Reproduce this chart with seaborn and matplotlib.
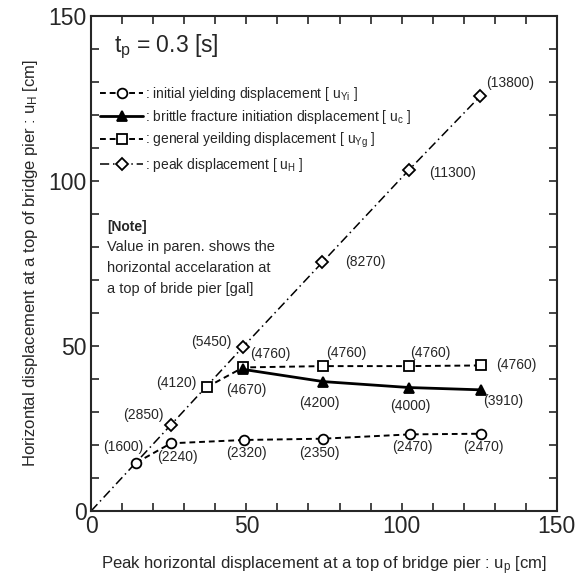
import matplotlib
matplotlib.use("Agg")
import matplotlib.pyplot as plt
from matplotlib.lines import Line2D
from matplotlib.ticker import MultipleLocator
import seaborn as sns
import pandas as pd

# DATA
up_yi = [14.5, 25.7, 49.3, 74.8, 102.7, 125.7]
uh_yi = [14.6, 20.5, 21.5, 21.9, 23.2, 23.4]
acc_yi = [1600, 2240, 2320, 2350, 2470, 2470]

up_c = [49.0, 74.8, 102.5, 125.7]
uh_c = [42.9, 39.2, 37.4, 36.7]
acc_c = [4670, 4200, 4000, 3910]

up_yg = [37.2, 49.0, 74.8, 102.5, 125.7]
uh_yg = [37.5, 43.5, 43.9, 43.9, 44.1]
acc_yg = [4120, 4760, 4760, 4760, 4760]

up_h = [25.7, 49.0, 74.5, 102.3, 125.4]
uh_h = [26.1, 49.8, 75.4, 103.3, 125.8]
acc_h = [2850, 5450, 8270, 11300, 13800]

# label offsets in pixels (x, y)
off_yi = [(-13, 16), (6, -14), (2, -13), (-4, -14), (2, -13), (2, -13)]
off_c = [(3, -21), (-4, -21), (1, -18), (22, -11)]
off_yg = [(-30, 4), (27, 13), (23, 13), (21, 13), (35, 0)]
off_h = [(-28, 10), (-32, 5), (43, 0), (44, -3), (30, 13)]

sns.set_style("ticks")
plt.rcParams["font.family"] = ["Liberation Sans", "DejaVu Sans"]
plt.rcParams["mathtext.fontset"] = "custom"
plt.rcParams["mathtext.rm"] = "Liberation Sans"
plt.rcParams["mathtext.it"] = "Liberation Sans"
plt.rcParams["mathtext.bf"] = "Liberation Sans:bold"

fig, ax = plt.subplots(figsize=(5.77, 5.76), dpi=100)
fig.subplots_adjust(left=0.158, right=0.965, bottom=0.113, top=0.972)

dash = (0, (3, 2))
dashdot = (0, (6, 2.5, 1, 2.5))
mk = dict(markersize=7, markeredgewidth=1.3, markeredgecolor="black")

# peak displacement line starts from origin
line_df = pd.DataFrame({"x": [0] + up_h, "y": [0] + uh_h})
sns.lineplot(data=line_df, x="x", y="y", ax=ax, color="black", lw=1.1,
             linestyle=dashdot, sort=False)
sns.lineplot(x=up_h, y=uh_h, ax=ax, color="black", linestyle="", marker="D",
             markerfacecolor="white", **dict(mk, markersize=6.5), sort=False)

sns.lineplot(x=up_yi, y=uh_yi, ax=ax, color="black", lw=1.4, linestyle=dash,
             marker="o", markerfacecolor="white", **mk, sort=False)
sns.lineplot(x=up_yg, y=uh_yg, ax=ax, color="black", lw=1.4, linestyle=dash,
             marker="s", markerfacecolor="white", **mk, sort=False)
sns.lineplot(x=up_c, y=uh_c, ax=ax, color="black", lw=2.0, linestyle="-",
             marker="^", markerfacecolor="black", **mk, sort=False)

# acceleration labels
for xs, ys, accs, offs in [(up_yi, uh_yi, acc_yi, off_yi),
                           (up_c, uh_c, acc_c, off_c),
                           (up_yg, uh_yg, acc_yg, off_yg),
                           (up_h, uh_h, acc_h, off_h)]:
    for x, y, a, o in zip(xs, ys, accs, offs):
        ax.annotate(f"({a})", (x, y), xytext=o, textcoords="offset pixels",
                    ha="center", va="center", fontsize=10)

ax.set_xlim(0, 150)
ax.set_ylim(0, 150)
ax.xaxis.set_major_locator(MultipleLocator(50))
ax.yaxis.set_major_locator(MultipleLocator(50))
ax.xaxis.set_minor_locator(MultipleLocator(10))
ax.yaxis.set_minor_locator(MultipleLocator(10))
ax.tick_params(which="both", direction="in", top=True, right=True,
               length=6, width=1.2, labelsize=16.5, pad=3)
for s in ax.spines.values():
    s.set_linewidth(1.5)

ax.set_xlabel("Peak horizontal displacement at a top of bridge pier : $u_p$ [cm]",
              fontsize=12)
ax.set_ylabel("Horizontal displacement at a top of bridge pier : $u_H$ [cm]",
              fontsize=12)
ax.xaxis.set_label_coords(0.5, -0.087)
ax.yaxis.set_label_coords(-0.11, 0.5)

ax.text(0.05, 0.937, "$t_p$ = 0.3 [s]", transform=ax.transAxes,
        fontsize=16.5, va="center")

handles = [
    Line2D([], [], color="black", lw=1.4, ls=dash, marker="o",
           markerfacecolor="white", **mk),
    Line2D([], [], color="black", lw=2.0, ls="-", marker="^",
           markerfacecolor="black", **mk),
    Line2D([], [], color="black", lw=1.4, ls=dash, marker="s",
           markerfacecolor="white", **mk),
    Line2D([], [], color="black", lw=1.1, ls=dashdot, marker="D",
           markerfacecolor="white", **dict(mk, markersize=6.5)),
]
labels = [
    ": initial yielding displacement [ $u_{Yi}$ ]",
    ": brittle fracture initiation displacement [ $u_c$ ]",
    ": general yeilding displacement [ $u_{Yg}$ ]",
    ": peak displacement [ $u_H$ ]",
]
ax.legend(handles, labels, loc="upper left", bbox_to_anchor=(0.019, 0.861),
          frameon=False, borderpad=0, borderaxespad=0, handlelength=3.1,
          handletextpad=0.15, labelspacing=0.37, fontsize=10)

note = ["Value in paren. shows the", "horizontal accelaration at",
        "a top of bride pier [gal]"]
ax.text(0.034, 0.574, "[Note]", transform=ax.transAxes, fontsize=10,
        fontweight="bold", va="center")
for i, line in enumerate(note):
    ax.text(0.034, 0.533 - i * 0.0425, line, transform=ax.transAxes,
            fontsize=10.5, va="center")

fig.savefig("out.png", dpi=100)
